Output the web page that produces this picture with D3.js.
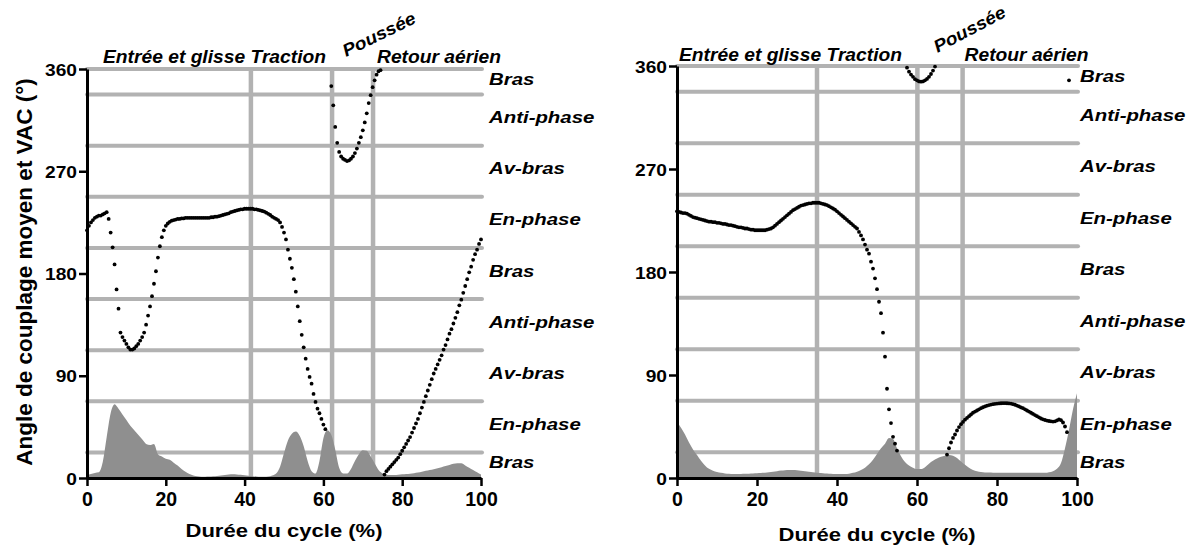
<!DOCTYPE html>
<html><head><meta charset="utf-8">
<script src="https://cdn.jsdelivr.net/npm/d3@7"></script>
<style>
body{margin:0;background:#fff}
svg{display:block}
text{font-family:"Liberation Sans",Arial,Helvetica,sans-serif;font-weight:bold;fill:#000}
</style>
</head><body>
<svg id="chart" width="1192" height="546"></svg>
<script>
// ---------- data ----------
const xTicks = [0, 20, 40, 60, 80, 100];
const yTicks = [0, 90, 180, 270, 360];
const binEdges = [22.5, 67.5, 112.5, 157.5, 202.5, 247.5, 292.5, 337.5, 360];
const binLabels = ["Bras", "Anti-phase", "Av-bras", "En-phase", "Bras", "Anti-phase", "Av-bras", "En-phase", "Bras"];
const binMids = [348.75, 315, 270, 225, 180, 135, 90, 45, 11.25];
const phaseNames = ["Entrée et glisse Traction", "Poussée", "Retour aérien"];
const phaseLeft = [41.6, 62.2, 72.6];
const phaseRight = [35, 60.1, 71.4];
const curveStep = 0.5;   // % of cycle between couplage samples
const areaStep = 1;      // % of cycle between VAC samples

const leftCurve = [
 218,222,225,227,229,230,231,231,232,233,234,
 228,216,203,188,166,149,128,124,121,118,
 115,113,113,114,116,118,121,124,128,135,
 143,151,160,171,182,194,204,212,218,222,
 224,225.5,226.5,227,227.5,228,228,228.5,228.5,229,
 229,229,229,229,229,229,229,229,229,229,
 229,229,229.5,229.5,230,230,230.5,231,231.5,232,
 232.5,233,234,234.5,235,235.5,236,236.5,236.5,237,
 237,237,237,237,236.5,236.5,236,235.5,235,234.5,
 233.5,232.5,231.5,230,229,228,227,225,221,216,
 210,201,193,185,175,164,151,138,126,115,
 105,96,89,83,74,67,61,57,52,47,
 43,null,null,345,328,309,295,287,283,281,
 280,279,279.5,281,283,286,290,295,300,306,
 313,321,330,337,344,350,355,358,359,null,
 3,6,8,10,12,14,16,18,21,24,
 27,30,33,36,40,44,48,52,57,62,
 67,72,77,82,87,92,96,100,104,108,
 113,117,122,127,131,136,141,146,152,157,
 163,169,175,181,186,192,197,201,206,210
];
const rightCurve = [
 233,232.5,232,231.5,231.5,231,230,229,228,227.5,227,
 226.5,226,225.5,225,224.5,224,224,223.5,223.5,223,
 223,222.5,222,222,221.5,221,221,220.5,220,219.5,
 219,219,218.5,218,218,217.5,217,217,216.5,216.5,
 216.5,216.5,216.5,216.5,217,217.5,218,219,220.5,222,
 223.5,225,226.5,228,229.5,231,232.5,234,235,236,
 237,238,238.5,239,239.5,240,240,240.5,240.5,240.5,
 240.5,240,239.5,239,238.5,237.5,236.5,235.5,234.5,233,
 231.5,230,228.5,227,225.5,224,222.5,221,219.5,218,
 215,212,208.5,204,199.5,196,189,183,174.5,165,
 154,144,127,106,78,60,48,36,30,24,
 null,null,null,null,358.5,355,352.5,350.5,348.5,347.5,
 346.5,346.3,346.5,347.5,348.7,350.5,353,356,359.5,null,
 null,null,null,null,20.5,26,31,35,38,41.5,
 44.5,47,49,51,52.5,54,55.5,57,58,59,
 60,61,61.8,62.5,63.2,63.7,64.2,64.5,64.8,65,
 65.2,65.3,65.4,65.4,65.3,65.2,65,64.5,64,63.3,
 62.5,61.7,61,60,59,58,57,56,55,54,
 53,52,51.3,50.7,50.2,49.8,49.5,49.3,49.5,50.3,
 51.2,50.5,48.5,45,40,347.5,null,null,null,null
];
const leftVAC = [
 2.5,3.5,4.5,5,14,36,57,65,61,56,51,
 46,42,38,34,30,29,30,21,19,17,
 16,13.5,11,8,5.5,3.5,2.3,1.5,1.2,1.2,
 1.3,1.5,1.8,2.2,2.6,3,3.2,3.1,2.8,2.4,
 2,1.6,1.3,1.1,1.1,1.3,2.2,4,10,22,
 33,39,41,37,28,15,6,4,15,35,
 42,38,25,9,4,4,8,15,21,24.5,
 24,19,13,7,4,2.8,2.6,2.7,2.9,3.2,
 3.5,3.8,4.2,4.8,5.5,6.3,7,7.8,8.6,9.5,
 10.5,11.5,12.5,13,13,11,9,7,5,3
];
const rightVAC = [
 49,44,38,31,25,20,15,11,8,6.3,5.3,
 4.6,4,3.7,3.5,3.5,3.6,3.7,3.8,4,4.2,
 4.4,4.6,5,5.5,6,6.5,6.8,7,7,6.8,
 6.4,6,5.5,5,4.6,4.3,4,3.8,3.6,3.5,
 3.4,3.5,3.8,4.5,5.5,7,9,12,16,21,
 26,30,35,34,26,19,14,11,9,7.8,
 7.8,9.5,12.5,15,17,18.5,19.5,20,19.5,17.5,
 14.5,11.5,9,7,5.8,5.2,4.9,4.7,4.6,4.5,
 4.5,4.5,4.5,4.5,4.5,4.5,4.5,4.5,4.5,4.5,
 4.5,4.5,5,6,8,13,26,42,60,74
];

// ---------- drawing ----------
const svg = d3.select("#chart");
const GRID = "#b2b2b2", AREA = "#8f8f8f";

function txt(g, x, y, s, o) {
  return g.append("text")
    .attr("transform", `translate(${x},${y}) rotate(${o.rot || 0}) scale(${o.sx || 1},1)`)
    .attr("font-size", o.size)
    .attr("font-style", o.italic ? "italic" : "normal")
    .attr("text-anchor", o.anchor || "start")
    .text(s);
}

function panel(cfg) {
  const g = svg.append("g");
  const x = d3.scaleLinear().domain([0, 100]).range([cfg.x0, cfg.x1]);
  const y = d3.scaleLinear().domain([0, 360]).range([cfg.y0, cfg.y1]);

  // horizontal bin lines
  g.selectAll(".h").data(binEdges).join("line")
    .attr("x1", x(0)).attr("x2", x(100) + 1)
    .attr("y1", d => y(d)).attr("y2", d => y(d))
    .attr("stroke", GRID).attr("stroke-width", 4).attr("stroke-linecap", "round");
  // vertical phase lines
  g.selectAll(".v").data(cfg.phases).join("line")
    .attr("x1", d => x(d)).attr("x2", d => x(d))
    .attr("y1", y(360)).attr("y2", y(0))
    .attr("stroke", GRID).attr("stroke-width", 4.5);

  // VAC area
  const area = d3.area().x((d, i) => x(i * areaStep)).y0(y(0)).y1(d => y(d)).curve(d3.curveMonotoneX);
  g.append("path").datum(cfg.vac).attr("d", area).attr("fill", AREA);

  // couplage angle dots
  const pts = cfg.curve.map((v, i) => ({ p: i * curveStep, v })).filter(d => d.v !== null);
  g.selectAll(".dot").data(pts).join("circle")
    .attr("cx", d => x(d.p)).attr("cy", d => y(d.v)).attr("r", 1.9).attr("fill", "#000");

  // axes
  const ax = g.append("g").attr("transform", `translate(0,${cfg.y0})`)
    .call(d3.axisBottom(x).tickValues(xTicks).tickSize(8).tickSizeOuter(0).tickPadding(5));
  ax.select(".domain").attr("stroke-width", 3);
  ax.selectAll(".tick line").attr("stroke-width", 2.5);
  ax.selectAll("text").attr("font-size", 19.5).attr("font-family", "Liberation Sans, Arial, sans-serif").attr("font-weight", "bold").attr("dy", "0.78em");

  const ay = g.append("g").attr("transform", `translate(${cfg.x0},0)`)
    .call(d3.axisLeft(y).tickValues(yTicks).tickSize(8).tickSizeOuter(0).tickPadding(2));
  ay.select(".domain").attr("stroke-width", 3);
  ay.selectAll(".tick line").attr("stroke-width", 2.5);
  ay.selectAll("text").attr("font-size", 17).attr("font-family", "Liberation Sans, Arial, sans-serif").attr("font-weight", "bold")
    .attr("x", null).attr("dy", "0.36em").attr("transform", "translate(-10,0) scale(1.13,1)");

  // bin labels at right
  binLabels.forEach((s, i) => {
    txt(g, cfg.labelX, y(binMids[i]) + 3, s, { size: 17, sx: 1.2, italic: true });
  });

  // phase labels
  txt(g, cfg.entreeX, cfg.phaseY, phaseNames[0], { size: 17.5, sx: 1.1, italic: true });
  txt(g, x(cfg.phases[1]) + cfg.pousseeDx, cfg.pousseeY, phaseNames[1], { size: 17.5, sx: 1.1, italic: true, rot: cfg.pousseeRot });
  txt(g, x(cfg.phases[2]) + cfg.retourDx, cfg.phaseY, phaseNames[2], { size: 17.5, sx: 1.1, italic: true });

  // x title
  txt(g, (cfg.x0 + cfg.x1) / 2, cfg.titleY, "Durée du cycle (%)", { size: 19, sx: 1.16, anchor: "middle" });
  return g;
}

panel({ x0: 87, x1: 481, y0: 478, y1: 69, curve: leftCurve, vac: leftVAC, phases: phaseLeft,
  labelX: 489, entreeX: 103, phaseY: 63, pousseeDx: 14, pousseeY: 57, pousseeRot: -26, retourDx: 4, titleY: 537 });
panel({ x0: 677, x1: 1077, y0: 478, y1: 66, curve: rightCurve, vac: rightVAC, phases: phaseRight,
  labelX: 1080, entreeX: 679, phaseY: 60.5, pousseeDx: 20, pousseeY: 53, pousseeRot: -28, retourDx: 2, titleY: 541 });

// y title
txt(svg, 32, 272, "Angle de couplage moyen et VAC (°)", { size: 22.5, rot: -90, anchor: "middle" });
</script>
</body></html>
